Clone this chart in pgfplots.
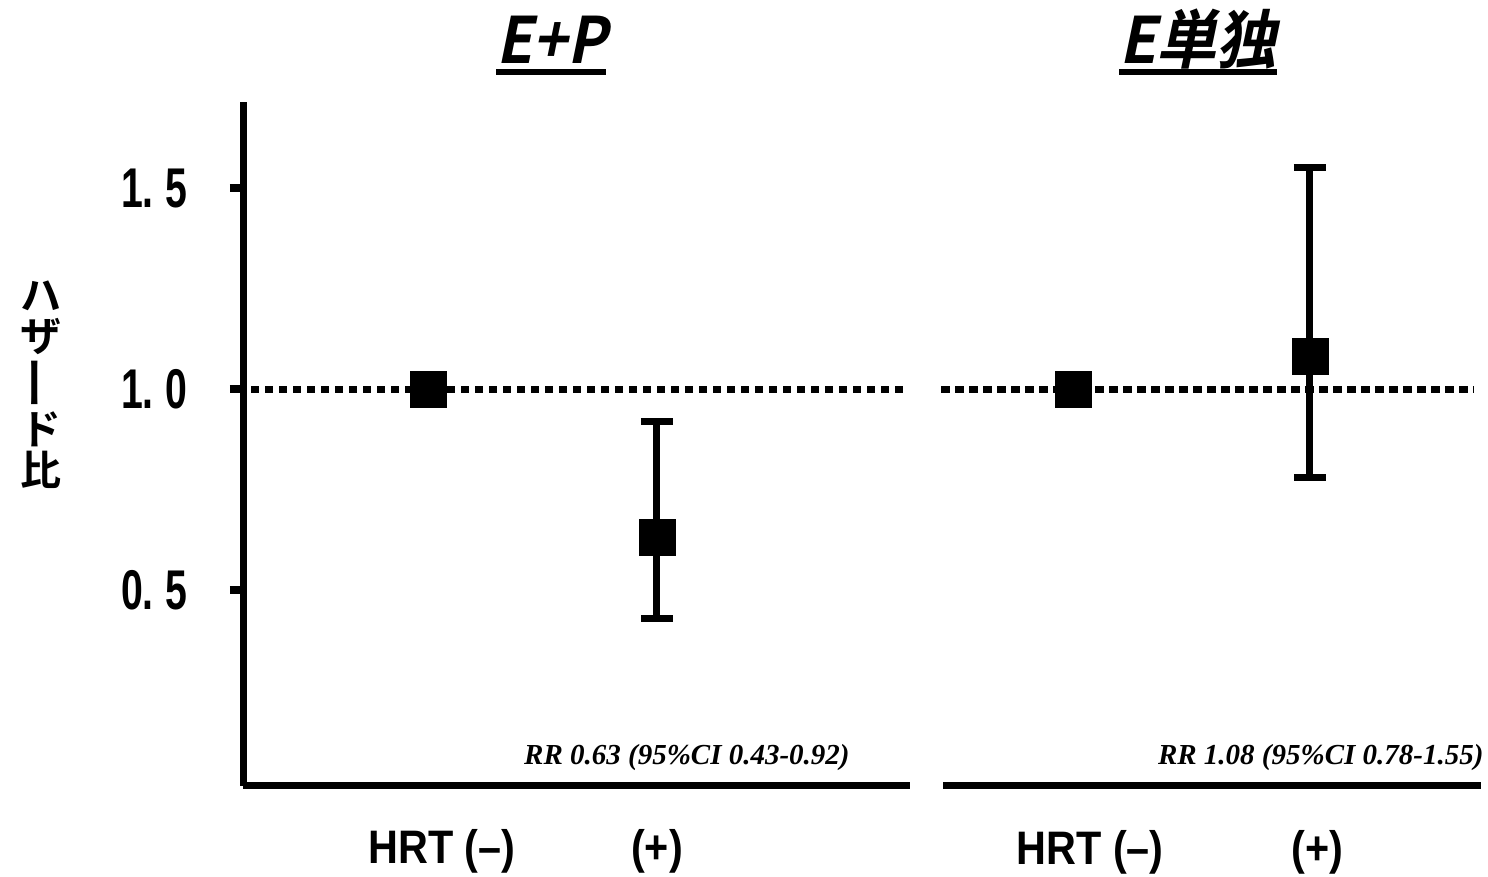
\documentclass[border=0pt]{standalone}
\usepackage{fontspec}
\usepackage{graphicx}
\usepackage{pgfplots}
\pgfplotsset{compat=1.18}
\setmainfont{Liberation Sans}
\newfontfamily\numfont{Liberation Sans}[UprightFont=* Bold, FakeStretch=0.7]
\newfontfamily\labfont{Liberation Sans}[UprightFont=* Bold, FakeStretch=0.88]
\newfontfamily\rrfont{Liberation Serif}[UprightFont=* Bold Italic]
\newfontfamily\jpfont{Noto Sans CJK JP}[UprightFont=* Bold]
\newfontfamily\jpslant{Noto Sans CJK JP}[UprightFont=* Bold, FakeSlant=0.22]
\newcommand\thickul[1]{\setbox0=\hbox{#1}\leavevmode\copy0\llap{\rule[-5.5pt]{\wd0}{3pt}}}
\tikzset{rr/.style={anchor=base east, inner sep=0pt, font=\rrfont\fontsize{14.5}{14.5}\selectfont}}
\pgfplotsset{
  panel/.style={
    scale only axis, anchor=south west, height=342pt,
    ymin=0.0124, ymax=1.714,
    axis x line=bottom,
    clip=false,
    title style={anchor=base, yshift=13pt, inner sep=0pt, font=\jpslant\fontsize{32}{32}\selectfont},
  },
  panelafter/.style={
    axis line style={-, line width=3.5pt, black},
    x axis line style={-}, y axis line style={-},
    tick align=outside,
    xtick style={draw=none},
    xticklabel style={font=\labfont\fontsize{23.5}{23.5}\selectfont, anchor=base, inner sep=0pt},
  },
  refline/.style={black, line width=3.5pt, dash pattern=on 4.2pt off 2.8pt},
  pt/.style={black, only marks, mark=square*, mark size=9pt},
  pterr/.style={black, only marks, mark=square*, mark size=9pt,
    error bars/.cd, y dir=both, y explicit,
    error bar style={line width=3.5pt, black},
    error mark options={rotate=90, line width=3.5pt, mark size=8pt, black}},
}
\begin{document}
\begin{tikzpicture}
\useasboundingbox (0,0) rectangle (744pt,438.5pt);
% Left panel: E+P
\begin{axis}[panel, at={(121.5pt,45.5pt)}, width=333.5pt,
  xmin=-0.808, xmax=2.105,
  axis y line=left,
  panelafter,
  ytick={0.5,1,1.5},
  yticklabels={0.\hspace{6pt}5, 1.\hspace{6pt}0, 1.\hspace{6pt}5},
  major tick length=6.5pt,
  ytick style={line width=4pt, black},
  yticklabel style={font=\numfont\fontsize{28}{28}\selectfont, anchor=east, inner sep=0pt, xshift=-21pt},
  xtick={0.061,1}, xticklabels={HRT (–), (+)},
  xticklabel style={yshift=-32pt},
  title style={at={(0.462,1)}},
  title={\scalebox{0.92}[1]{\thickul{E+P}}},
]
\addplot[refline] coordinates {(-0.773,1) (2.096,1)};
\addplot[pt] coordinates {(0,1)};
\addplot[pterr] coordinates {(1,0.63) += (0,0.29) -= (0,0.20)};
\node[rr] at (axis cs:1.843,0.0647) {RR 0.63 (95\%CI 0.43-0.92)};
\end{axis}
% Right panel: E alone
\begin{axis}[panel, at={(471.5pt,45.5pt)}, width=269pt,
  xmin=-0.549, xmax=1.722,
  axis y line=none,
  panelafter,
  ytick=\empty,
  xtick={0.072,1.03}, xticklabels={HRT (–), (+)},
  xticklabel style={yshift=-35pt},
  title style={at={(0.474,1)}},
  title={\scalebox{0.94}[1]{\thickul{E単独}}},
]
\addplot[refline] coordinates {(-0.557,1) (1.69,1)};
\addplot[pt] coordinates {(0,1)};
\addplot[pterr] coordinates {(1,1.08) += (0,0.47) -= (0,0.30)};
\node[rr] at (axis cs:1.734,0.0647) {RR 1.08 (95\%CI 0.78-1.55)};
\end{axis}
\node[font=\jpfont\fontsize{20.5}{20.5}\selectfont, align=center, inner sep=0pt] at (20.5pt,246pt) {ハ\\ザ\\\rotatebox[origin=c]{90}{\scalebox{1.3}[1]{ー}}\\ド\\比};
\end{tikzpicture}
\end{document}
